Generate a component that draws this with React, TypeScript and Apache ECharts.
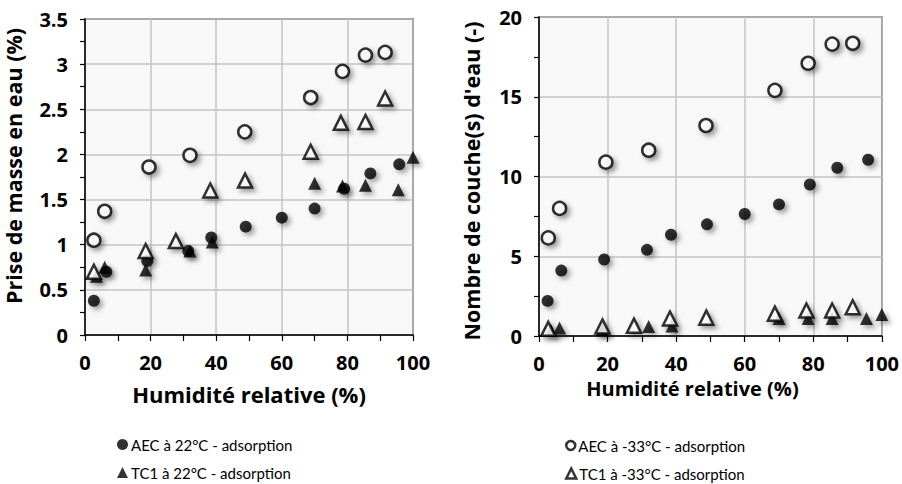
import React, { useEffect, useRef } from "react";
import * as echarts from "echarts";

// ---- Data (left chart: Prise de masse en eau, %) ----
const aec22X_L = [2.7, 6.5, 19, 31.5, 38.5, 49, 60, 70, 79, 87, 95.8];
const aec22Y_L = [0.38, 0.7, 0.82, 0.93, 1.08, 1.2, 1.3, 1.4, 1.62, 1.79, 1.89];
const tc122X_L = [3.5, 6, 18.5, 32, 38.8, 70, 78.5, 85.5, 95.5, 100];
const tc122Y_L = [0.65, 0.75, 0.72, 0.93, 1.03, 1.68, 1.65, 1.66, 1.61, 1.97];
const aec33X_L = [2.7, 6, 19.5, 32, 48.7, 68.8, 78.5, 85.5, 91.5];
const aec33Y_L = [1.05, 1.37, 1.86, 1.99, 2.25, 2.63, 2.92, 3.1, 3.13];
const tc133X_L = [2.7, 18.5, 27.7, 38.2, 48.8, 68.8, 78, 85.5, 91.5];
const tc133Y_L = [0.7, 0.93, 1.04, 1.6, 1.71, 2.03, 2.35, 2.36, 2.62];

// ---- Data (right chart: Nombre de couche(s) d'eau) ----
const aec22X_R = [2.5, 6.5, 19, 31.5, 38.5, 49, 60, 70, 79, 87, 96];
const aec22Y_R = [2.2, 4.1, 4.8, 5.4, 6.35, 7.0, 7.65, 8.25, 9.5, 10.55, 11.05];
const tc122X_R = [3.5, 6, 18.5, 32, 38.8, 70, 78.5, 85.5, 95.5, 100];
const tc122Y_R = [0.35, 0.5, 0.4, 0.6, 0.62, 1.1, 1.1, 1.1, 1.1, 1.35];
const aec33X_R = [2.7, 6, 19.5, 32, 48.7, 68.8, 78.5, 85.5, 91.5];
const aec33Y_R = [6.15, 8.0, 10.9, 11.65, 13.2, 15.4, 17.1, 18.3, 18.35];
const tc133X_R = [2.7, 18.5, 27.7, 38.2, 48.8, 68.8, 78, 85.5, 91.5];
const tc133Y_R = [0.45, 0.6, 0.65, 1.1, 1.15, 1.4, 1.6, 1.6, 1.8];

const seriesNames = [
  "AEC à 22°C - adsorption",
  "TC1 à 22°C - adsorption",
  "AEC à -33°C - adsorption",
  "TC1 à -33°C - adsorption",
];
const xTitle = "Humidité relative (%)";
const yTitleLeft = "Prise de masse en eau (%)";
const yTitleRight = "Nombre de couche(s) d'eau (-)";

const FONT = "'Open Sans', Lato, sans-serif";
const LEGEND_FONT = "Lato, 'Open Sans', sans-serif";

const zip = (xs: number[], ys: number[]) => xs.map((x, i) => [x, ys[i]]);

const shadow = {
  shadowColor: "rgba(0,0,0,0.45)",
  shadowBlur: 5,
  shadowOffsetX: 3,
  shadowOffsetY: 3,
};
const filledStyle = { color: "#000", ...shadow };
const openStyle = { color: "#fff", borderColor: "#000", borderWidth: 2.5, ...shadow };

function makeSeries(idx: number, data: number[][][]) {
  const defs = [
    { symbol: "circle", size: 12, style: filledStyle },
    { symbol: "triangle", size: 13, style: filledStyle },
    { symbol: "circle", size: 13, style: openStyle },
    { symbol: "triangle", size: 14, style: openStyle },
  ];
  return defs.map((d, i) => ({
    type: "scatter",
    name: seriesNames[i],
    xAxisIndex: idx,
    yAxisIndex: idx,
    symbol: d.symbol,
    symbolSize: d.size,
    itemStyle: d.style,
    data: data[i],
    z: 2 + i,
  }));
}

function xAxis(gridIndex: number, nameGap: number, nameSize: number, namePad: number[]) {
  return {
    type: "value",
    gridIndex,
    min: 0,
    max: 100,
    interval: 20,
    name: xTitle,
    nameLocation: "middle",
    nameGap,
    nameTextStyle: { fontFamily: FONT, fontWeight: "bold", fontSize: nameSize, color: "#000", padding: namePad },
    axisLine: { show: true, lineStyle: { color: "#000", width: 1.5 } },
    axisTick: { show: true, length: 6, lineStyle: { color: "#000", width: 1.2 } },
    minorTick: { show: true, splitNumber: 2, length: 6, lineStyle: { color: "#000", width: 1.2 } },
    axisLabel: { margin: 17, fontFamily: FONT, fontWeight: "bold", fontSize: 20, color: "#000" },
    splitLine: { show: true, lineStyle: { color: "#c4c4c4", width: 1.5 } },
  };
}

function yAxis(gridIndex: number, max: number, interval: number, name: string, nameGap: number, namePad: number[]) {
  return {
    type: "value",
    gridIndex,
    min: 0,
    max,
    interval,
    name,
    nameLocation: "middle",
    nameGap,
    nameTextStyle: { fontFamily: FONT, fontWeight: "bold", fontSize: 21.5, color: "#000", padding: namePad },
    axisLine: { show: true, lineStyle: { color: "#000", width: 1.5 } },
    axisTick: { show: true, length: 5, lineStyle: { color: "#000", width: 1.2 } },
    minorTick: { show: true, splitNumber: 2, length: 5, lineStyle: { color: "#000", width: 1.2 } },
    axisLabel: { margin: 17, fontFamily: FONT, fontWeight: "bold", fontSize: 20, color: "#000" },
    splitLine: { show: true, lineStyle: { color: "#c4c4c4", width: 1.5 } },
  };
}

function legend(i: number, left: number, top: number, icon: string, style: any, size: number) {
  return {
    show: true,
    left,
    top,
    orient: "horizontal",
    icon,
    itemWidth: size,
    itemHeight: size,
    itemGap: 0,
    selectedMode: false,
    padding: 0,
    textStyle: { fontFamily: LEGEND_FONT, fontSize: 15, color: "#000", padding: [0, 0, 0, -2] },
    data: [{ name: seriesNames[i], icon, itemStyle: style }],
  };
}

export default function App() {
  const ref = useRef<HTMLDivElement>(null);
  useEffect(() => {
    if (!ref.current) return;
    const chart = echarts.init(ref.current, undefined, { renderer: "svg" });
    const plain = { shadowBlur: 0, shadowOffsetX: 0, shadowOffsetY: 0 };
    chart.setOption({
      animation: false,
      backgroundColor: "#fff",
      grid: [
        { left: 85, top: 19, width: 328, height: 316, show: true, backgroundColor: "#f8f8f8", borderColor: "#222", borderWidth: 1.5 },
        { left: 539, top: 17, width: 346, height: 319, show: true, backgroundColor: "#f8f8f8", borderColor: "#222", borderWidth: 1.5 },
      ],
      xAxis: [xAxis(0, 48, 22, [0, 0, 0, 0]), xAxis(1, 42, 20, [0, 36, 0, 0])],
      yAxis: [
        yAxis(0, 3.5, 0.5, yTitleLeft, 61, [0, 0, 0, 22]),
        yAxis(1, 20, 5, yTitleRight, 57, [0, 9, 0, 0]),
      ],
      legend: [
        legend(0, 117, 437, "circle", { color: "#000", borderWidth: 0, ...plain }, 11),
        legend(1, 117, 465, "triangle", { color: "#000", borderWidth: 0, ...plain }, 11),
        legend(2, 565, 438, "circle", { color: "#fff", borderColor: "#000", borderWidth: 2.5, ...plain }, 9),
        legend(3, 565, 466, "triangle", { color: "#fff", borderColor: "#000", borderWidth: 2.5, ...plain }, 10),
      ],
      series: [
        ...makeSeries(0, [
          zip(aec22X_L, aec22Y_L),
          zip(tc122X_L, tc122Y_L),
          zip(aec33X_L, aec33Y_L),
          zip(tc133X_L, tc133Y_L),
        ]),
        ...makeSeries(1, [
          zip(aec22X_R, aec22Y_R),
          zip(tc122X_R, tc122Y_R),
          zip(aec33X_R, aec33Y_R),
          zip(tc133X_R, tc133Y_R),
        ]),
      ],
    });
    return () => chart.dispose();
  }, []);
  return (
    <div
      ref={ref}
      style={{ position: "fixed", left: 0, top: 0, width: 902, height: 484 }}
    />
  );
}
